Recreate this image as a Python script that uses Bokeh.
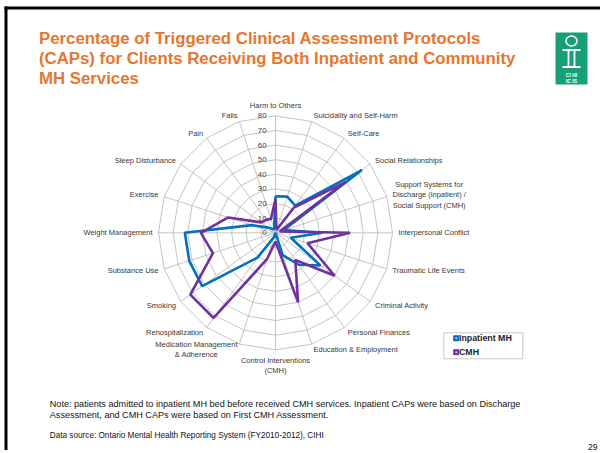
import numpy as np
from bokeh.plotting import figure
from bokeh.models import Range1d
from bokeh.core.properties import value
from bokeh.embed import file_html
from bokeh.resources import INLINE

# ---------------- data ----------------
categories = [
    "Harm to Others", "Suicidality and Self-Harm", "Self-Care", "Social Relationships",
    "Support Systems for\nDischarge (inpatient) /\nSocial Support (CMH)",
    "Interpersonal Conflict", "Traumatic Life Events", "Criminal Activity",
    "Personal Finances", "Education & Employment", "Control Interventions\n(CMH)",
    "Medication Management\n& Adherence", "Rehospitalization", "Smoking",
    "Substance Use", "Weight Management", "Exercise", "Sleep Disturbance", "Pain", "Falls",
]
inpatient_mh = [25, 26, 23, 73, 6, 32, 11, 38, 27, 16, 0, 3, 21, 62, 62, 62, 17, 6, 3, 3]
cmh = [23, 2, 21, 59, 3, 51, 23, 50, 23, 50, 6, 19, 72, 72, 45, 51, 34, 12, 11, 10]
tick_values = [0, 10, 20, 30, 40, 50, 60, 70, 80]
tick_labels = ["0", "10", "20", "30", "40", "50", "60", "70", "80"]
series_names = ["Inpatient MH", "CMH"]
series_colors = ["#0070C0", "#7030A0"]

title_lines = [
    "Percentage of Triggered Clinical Assessment Protocols",
    "(CAPs) for Clients Receiving Both Inpatient and Community",
    "MH Services",
]
note_lines = [
    "Note: patients admitted to inpatient MH bed before received CMH services. Inpatient CAPs were based on Discharge",
    "Assessment, and CMH CAPs were based on First CMH Assessment.",
]
source_line = "Data source: Ontario Mental Health Reporting System (FY2010-2012), CIHI"
page_number = "29"
logo_lines = ["CI HI", "IC IS"]

# ---------------- layout ----------------
W, H = 600, 450
CX, CY = 275.0, 232.3          # pixel position of radar centre
K = 117.0 / 80.0                # pixels per value unit
FONT = value("Liberation Sans")


def dx(px):
    return (px - CX) / K


def dy(py):
    return (CY - py) / K


p = figure(width=W, height=H, output_backend="svg", toolbar_location=None,
           x_range=Range1d(dx(0), dx(W)), y_range=Range1d(dy(H), dy(0)),
           x_axis_type=None, y_axis_type=None, min_border=0,
           outline_line_color=None, background_fill_color="white",
           border_fill_color="white")

# slide border (top and left)
p.segment(x0=[dx(4), dx(5.5)], y0=[dy(7.5), dy(6)], x1=[dx(W), dx(5.5)], y1=[dy(7.5), dy(H)],
          line_color="black", line_width=3)

# title
p.text(x=[dx(38.5)] * len(title_lines), y=[dy(38), dy(58), dy(78)], text=title_lines,
       text_font=FONT, text_font_style="bold", text_font_size="16.8px",
       text_color="#E8762D", text_align="left", text_baseline="middle")

# logo
p.quad(left=[dx(555)], right=[dx(587)], top=[dy(32)], bottom=[dy(84)],
       fill_color="#17A077", line_color=None)
p.ellipse(x=[dx(571)], y=[dy(40.5)], width=[11 / K], height=[10 / K],
          fill_color=None, line_color="white", line_width=1.5)
p.segment(x0=[dx(562), dx(562), dx(568), dx(574)], y0=[dy(49.5), dy(66.5), dy(49.5), dy(49.5)],
          x1=[dx(580), dx(580), dx(568), dx(574)], y1=[dy(49.5), dy(66.5), dy(66.5), dy(66.5)],
          line_color="white", line_width=1.8)
p.text(x=[dx(571)] * 2, y=[dy(74.5), dy(80.5)], text=logo_lines, text_font=FONT,
       text_font_style="bold", text_font_size="5px", text_color="white",
       text_align="center", text_baseline="middle")

# radar grid
n = len(categories)
theta = np.arange(n) * 2 * np.pi / n
ring_xs, ring_ys = [], []
for v in tick_values[1:]:
    ring_xs.append(list(np.append(v * np.sin(theta), 0.0)))
    ring_ys.append(list(np.append(v * np.cos(theta), v)))
p.multi_line(ring_xs, ring_ys, line_color="#B5B5B5", line_width=0.8)
rmax = tick_values[-1]
spoke_xs = [[0.0, rmax * np.sin(t)] for t in theta]
spoke_ys = [[0.0, rmax * np.cos(t)] for t in theta]
p.multi_line(spoke_xs, spoke_ys, line_color="#B5B5B5", line_width=0.8)

# tick labels
p.text(x=[dx(266)] * len(tick_values), y=tick_values, text=tick_labels,
       text_font=FONT, text_font_size="7.8px", text_color="#404040",
       text_align="right", text_baseline="middle")

# category labels
LR = 123.0 / K
for i, cat in enumerate(categories):
    deg = i * 360.0 / n
    if abs(deg) < 1e-6:
        anc = "bottom_center"
    elif abs(deg - 180) < 1e-6:
        anc = "top_center"
    elif deg < 180:
        anc = "center_left"
    else:
        anc = "center_right"
    p.text(x=[LR * np.sin(theta[i])], y=[LR * np.cos(theta[i])], text=[cat],
           anchor=value(anc), text_align="center", text_baseline="middle",
           text_font=FONT, text_font_size="7.5px", text_color="#383838",
           text_line_height=1.15)

# series
for vals, color in zip([inpatient_mh, cmh], series_colors):
    v = np.array(vals, dtype=float)
    xs = list(np.append(v * np.sin(theta), v[0] * np.sin(theta[0])))
    ys = list(np.append(v * np.cos(theta), v[0] * np.cos(theta[0])))
    p.line(xs, ys, line_color=color, line_width=2.6)

# legend
p.quad(left=[dx(443.3)], right=[dx(522.3)], top=[dy(332.3)], bottom=[dy(358.3)],
       fill_color="white", line_color="#C8C8C8", line_width=1)
leg_y = [dy(337.8), dy(351.7)]
p.scatter(x=[dx(455.7)] * 2, y=leg_y, marker="square", size=5,
          fill_color=series_colors, line_color=series_colors)
p.scatter(x=[dx(455.7)] * 2, y=leg_y, marker="square", size=1.4,
          fill_color="white", line_color=None)
p.text(x=[dx(458.5)] * 2, y=leg_y, text=series_names, text_font=FONT,
       text_font_style="bold", text_font_size="8.8px", text_color="#222222",
       text_align="left", text_baseline="middle")

# notes
p.text(x=[dx(49.3)] * 2, y=[dy(403.2), dy(414.2)], text=note_lines, text_font=FONT,
       text_font_size="9.1px", text_color="#111111", text_align="left",
       text_baseline="middle")
p.text(x=[dx(49.3)], y=[dy(435)], text=[source_line], text_font=FONT,
       text_font_size="8.2px", text_color="#111111", text_align="left",
       text_baseline="middle")
p.text(x=[dx(597)], y=[dy(446)], text=[page_number], text_font=FONT,
       text_font_size="8.5px", text_color="#111111", text_align="right",
       text_baseline="middle")

open("out.html", "w").write(file_html(p, INLINE))
